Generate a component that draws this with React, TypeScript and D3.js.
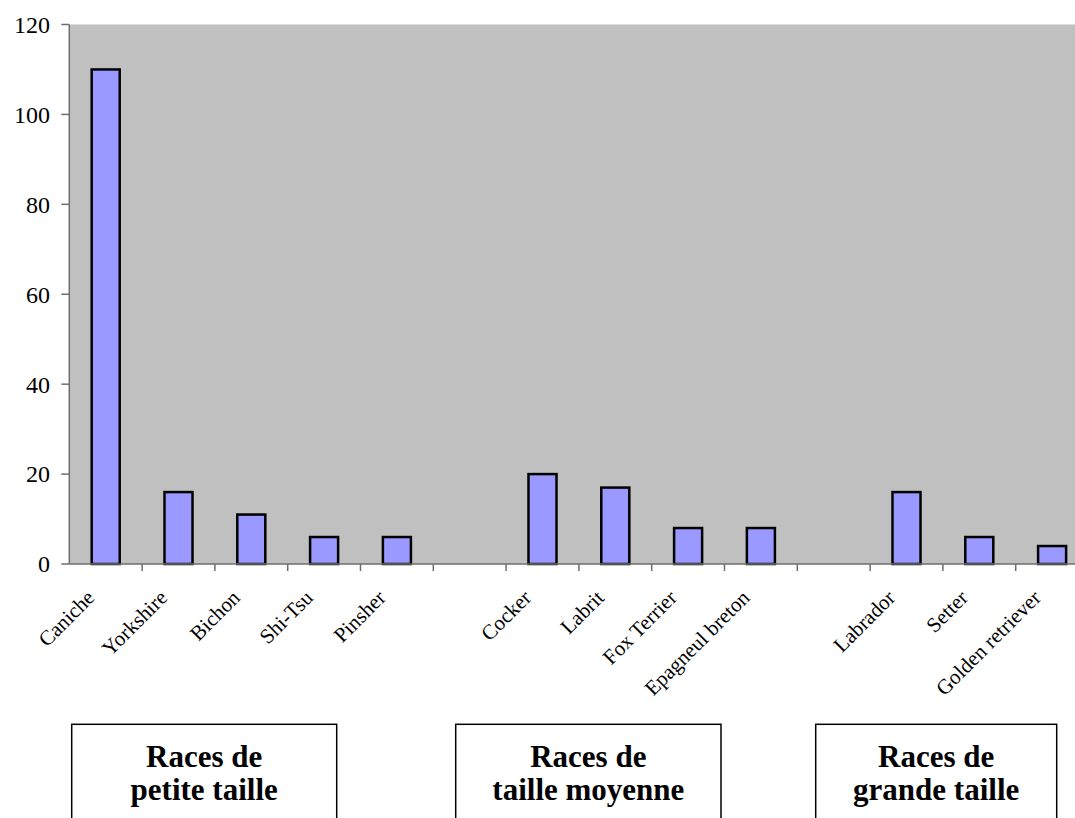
import React from 'react'
import { scaleBand, scaleLinear } from 'd3'

// breeds in plot order, gaps between the three size groups
const smallBreeds = ['Caniche', 'Yorkshire', 'Bichon', 'Shi-Tsu', 'Pinsher']
const smallValues = [110, 16, 11, 6, 6]
const mediumBreeds = ['Cocker', 'Labrit', 'Fox Terrier', 'Epagneul breton']
const mediumValues = [20, 17, 8, 8]
const largeBreeds = ['Labrador', 'Setter', 'Golden retriever']
const largeValues = [16, 6, 4]

const yTicks = [0, 20, 40, 60, 80, 100, 120]
const groupLabels = [
    ['Races de', 'petite taille'],
    ['Races de', 'taille moyenne'],
    ['Races de', 'grande taille'],
]

const W = 1075, H = 818
const plot = { left: 69.3, top: 24.5, bottom: 564 }
const step = 72.8
const boxes = [
    { x0: 71.7, x1: 336.7 },
    { x0: 455.7, x1: 721 },
    { x0: 815.7, x1: 1056.7 },
]
const boxTop = 724.3

const FONT = '"Liberation Serif", "Times New Roman", serif'

export default function App() {
    // build slots with empty separators
    const slots: { key: string, label: string, value: number | null }[] = []
    smallBreeds.forEach((b, i) => slots.push({ key: b, label: b, value: smallValues[i] }))
    slots.push({ key: '__gap1', label: '', value: null })
    mediumBreeds.forEach((b, i) => slots.push({ key: b, label: b, value: mediumValues[i] }))
    slots.push({ key: '__gap2', label: '', value: null })
    largeBreeds.forEach((b, i) => slots.push({ key: b, label: b, value: largeValues[i] }))

    const plotRight = plot.left + step * slots.length

    const xScale = scaleBand<string>()
        .domain(slots.map(s => s.key))
        .range([plot.left, plotRight])
        .paddingInner(0.615)
        .paddingOuter(0.3075)

    const yScale = scaleLinear().domain([0, 120]).range([plot.bottom, plot.top])

    const axisColor = '#6e6e6e'

    return (
        <svg width={W} height={H} style={{ position: 'absolute', left: 0, top: 0, background: '#fff' }}>
            <rect x={plot.left} y={plot.top} width={plotRight - plot.left} height={plot.bottom - plot.top} fill="#c0c0c0" />

            {/* bars */}
            {slots.filter(s => s.value !== null).map(s => (
                <rect
                    key={s.key}
                    x={xScale(s.key)}
                    y={yScale(s.value as number)}
                    width={xScale.bandwidth()}
                    height={yScale(0) - yScale(s.value as number)}
                    fill="#9999ff"
                    stroke="#000"
                    strokeWidth={2.5}
                />
            ))}

            {/* y axis */}
            <line x1={plot.left} x2={plot.left} y1={plot.top} y2={plot.bottom} stroke={axisColor} strokeWidth={1.5} />
            {yTicks.map(t => (
                <g key={t} transform={`translate(0,${yScale(t)})`}>
                    <line x1={plot.left - 8} x2={plot.left} stroke={axisColor} strokeWidth={1.5} />
                    <text x={50} dy="0.35em" textAnchor="end" fontFamily={FONT} fontSize={24} fill="#000">{t}</text>
                </g>
            ))}

            {/* x axis */}
            <line x1={plot.left} x2={plotRight} y1={plot.bottom} y2={plot.bottom} stroke={axisColor} strokeWidth={1.5} />
            {slots.map((s, i) => (
                <line key={'t' + i} x1={plot.left + step * (i + 1)} x2={plot.left + step * (i + 1)}
                    y1={plot.bottom} y2={plot.bottom + 7} stroke={axisColor} strokeWidth={1.5} />
            ))}
            {slots.filter(s => s.label).map(s => {
                const cx = (xScale(s.key) as number) + xScale.bandwidth() / 2 - 10
                const cy = plot.bottom + 35
                return (
                    <text key={'l' + s.key} transform={`translate(${cx},${cy}) rotate(-45)`}
                        textAnchor="end" fontFamily={FONT} fontSize={21} fill="#000">{s.label}</text>
                )
            })}

            {/* group boxes */}
            {boxes.map((b, i) => {
                const cx = (b.x0 + b.x1) / 2
                return (
                    <g key={'b' + i}>
                        <rect x={b.x0} y={boxTop} width={b.x1 - b.x0} height={H - boxTop + 20} fill="#fff" stroke="#000" strokeWidth={1.5} />
                        <text x={cx} y={766.7} textAnchor="middle" fontFamily={FONT} fontWeight="bold" fontSize={31}>{groupLabels[i][0]}</text>
                        <text x={cx} y={800} textAnchor="middle" fontFamily={FONT} fontWeight="bold" fontSize={31}>{groupLabels[i][1]}</text>
                    </g>
                )
            })}
        </svg>
    )
}
